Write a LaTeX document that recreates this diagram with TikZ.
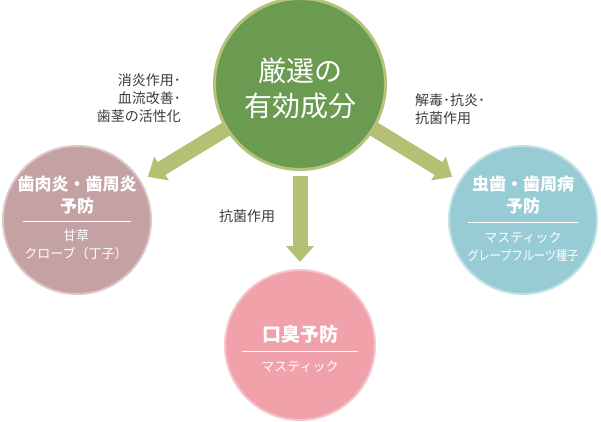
\documentclass[tikz,border=0pt]{standalone}
\usepackage{fontspec}
\setmainfont{Noto Sans CJK JP}
\usetikzlibrary{arrows.meta,positioning,calc}
\definecolor{leafgreen}{RGB}{107,155,80}
\definecolor{leafring}{RGB}{180,194,122}
\definecolor{arrowolive}{RGB}{180,193,117}
\definecolor{gumrose}{RGB}{196,161,162}
\definecolor{gumring}{RGB}{220,198,198}
\definecolor{cavityblue}{RGB}{152,204,212}
\definecolor{cavityring}{RGB}{195,226,230}
\definecolor{breathpink}{RGB}{240,161,169}
\definecolor{breathring}{RGB}{246,198,203}
\definecolor{effectgray}{RGB}{60,60,60}

\begin{document}
\begin{tikzpicture}[x=1pt,y=-1pt,
  bubble/.style={circle,line width=2pt,inner sep=0pt,minimum size=148pt},
  bubbletext/.style={text=white,align=center,inner sep=0pt},
  fatarrow/.style={draw=arrowolive,line width=15pt,-{Triangle[width=27pt,length=16pt]}},
  effecttext/.style={text=effectgray,font=\fontsize{14}{18}\selectfont,inner sep=0pt}]
  \useasboundingbox (0,0) rectangle (601,421);
  % circles
  \node[bubble,fill=leafgreen,draw=leafring,line width=3pt,minimum size=171pt] (source) at (300,84) {};
  \node[bubble,fill=gumrose,draw=gumring] (gumcare) at (77,220) {};
  \node[bubble,fill=cavityblue,draw=cavityring] (cavitycare) at (523,220) {};
  \node[bubble,fill=breathpink,draw=breathring,minimum size=150pt] (breathcare) at (300,345) {};
  % arrows
  \draw[fatarrow,shorten <=-1pt,shorten >=8pt] (source) -- (gumcare);
  \draw[fatarrow,shorten <=-1pt,shorten >=8pt] (source) -- (cavitycare);
  \draw[fatarrow,shorten <=5pt,shorten >=7pt] (source) -- (breathcare);
  % texts in the circles
  \node[bubbletext,font=\fontsize{28}{35}\selectfont] (sourcetitle) at (300,88) {厳選の\\有効成分};
  \node[bubbletext,font=\bfseries\fontsize{17}{22}\selectfont] (gumtitle) at (77,195) {歯肉炎・歯周炎\\予防};
  \node[bubbletext,font=\fontsize{13}{18}\selectfont] (gumherbs) at (76,245) {甘草\\クローブ（丁子）};
  \node[bubbletext,font=\bfseries\fontsize{17}{22}\selectfont] (cavitytitle) at (523,195.5) {虫歯・歯周病\\予防};
  \node[bubbletext,font=\fontsize{13}{18}\selectfont] (cavityherbs) at (523,247) {マスティック\\\scalebox{0.86}[1]{グレープフルーツ種子}};
  \node[bubbletext,font=\bfseries\fontsize{19}{22}\selectfont] (breathtitle) at (300,334) {口臭予防};
  \node[bubbletext,font=\fontsize{13}{18}\selectfont] (breathherbs) at (300,367) {マスティック};
  % dividers
  \draw[white,line width=0.8pt] ($(gumcare.center)+(-54,1)$) -- ($(gumcare.center)+(54,1)$);
  \draw[white,line width=0.8pt] ($(cavitycare.center)+(-55,2)$) -- ($(cavitycare.center)+(55,2)$);
  \draw[white,line width=0.8pt] ($(breathcare.center)+(-58,6)$) -- ($(breathcare.center)+(58,6)$);
  % effects
  \node[effecttext,align=right,anchor=east] (gumeffect) at (181,98.5) {消炎作用･\\血流改善･\\歯茎の活性化};
  \node[effecttext,align=left,anchor=west] (cavityeffect) at (415,109.5) {解毒･抗炎･\\抗菌作用};
  \node[effecttext] (breatheffect) at (247,216) {抗菌作用};
\end{tikzpicture}
\end{document}
